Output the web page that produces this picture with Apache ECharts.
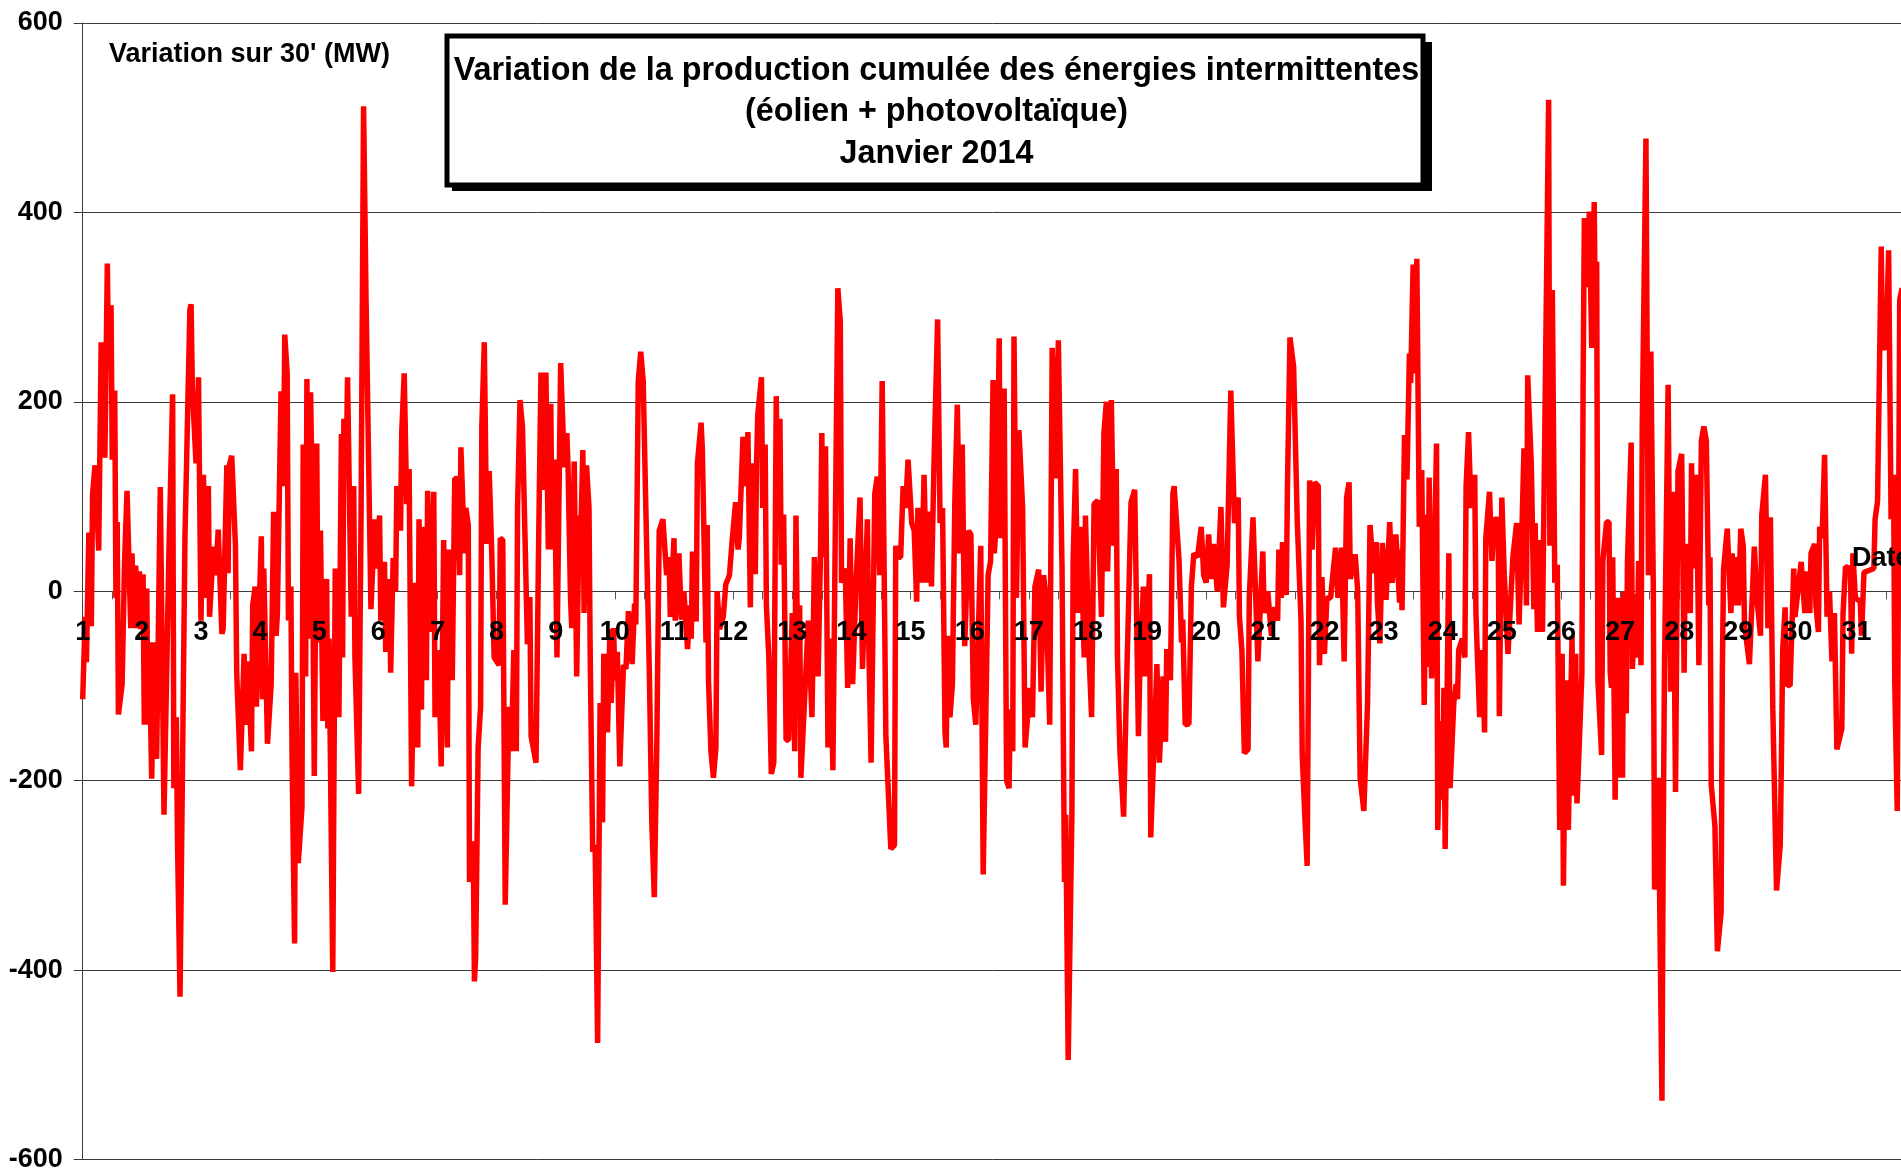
<!DOCTYPE html>
<html><head><meta charset="utf-8">
<style>html,body{margin:0;padding:0;background:#fff;overflow:hidden}#c{width:1901px;height:1173px}</style>
<script src="https://cdn.jsdelivr.net/npm/echarts@6/dist/echarts.min.js"></script>
</head><body><div id="c"></div>
<script>
// [half-hour slot since 1 Jan 00:00, variation over 30 min in MW] read at the curve's turning points
const days01to05 = [[0,-114],[2,-27],[3,-75],[5,62],[7,-37],[8,102],[10,133],[11,131],[13,43],[15,263],[18,141],[20,346],[21,241],[23,302],[24,139],[26,212],[27,-7],[28,73],[29,-130],[32,-98],[34,32],[36,106],[39,-39],[40,40],[42,-39],[43,27],[45,-39],[46,21],[47,-40],[49,18],[50,-141],[52,3],[53,-141],[54,-54],[56,-198],[58,-54],[60,-177],[61,-175],[63,110],[66,-236],[70,40],[73,208],[74,-208],[76,-133],[77,-268],[79,-428],[80,-428],[83,56],[87,297],[88,303],[89,214],[92,135],[94,226],[96,-31],[98,123],[100,-7],[102,111],[103,-27],[106,47],[108,17],[110,65],[113,-45],[114,-40],[117,133],[118,19],[119,133],[121,143],[124,48],[125,-86],[128,-189],[131,-66],[133,-141],[134,-74],[137,-169],[138,-15],[140,5],[141,-122],[145,58],[146,-114],[147,24],[150,-161],[153,-98],[155,84],[157,-47],[158,-25],[161,211],[163,111],[164,271],[166,230],[167,-31],[169,5],[170,-180],[172,-372],[173,-86],[175,-287],[178,-228],[179,155],[181,-90],[182,224],[184,-50],[185,210],[186,127],[188,-195],[190,156],[191,-54],[193,64],[195,-137],[198,13],[199,-145],[200,-50],[203,-402],[205,24],[208,-133],[210,166],[211,-70],[212,182],[214,135],[215,226],[218,-27],[220,111],[221,-70],[224,-214],[226,88],[228,512],[230,309],[234,-19],[237,76],[238,24],[241,80],[242,-31]];
const days06to10 = [[245,31],[246,-64],[249,13],[250,-86],[252,35],[254,0],[255,111],[258,64],[259,168],[261,230],[263,92],[265,129],[267,-206],[270,9],[272,-165],[273,76],[275,-125],[276,68],[279,-94],[280,106],[282,-43],[285,105],[286,-133],[289,-62],[291,-185],[293,54],[296,-165],[297,44],[300,-94],[302,119],[304,119],[306,17],[307,152],[310,40],[311,88],[313,70],[314,-307],[317,-264],[318,-412],[319,-386],[321,-165],[323,-122],[324,174],[326,263],[328,50],[330,127],[332,44],[334,-70],[338,-78],[339,56],[341,54],[343,-331],[346,-122],[348,-169],[350,-62],[352,-169],[353,88],[355,202],[357,174],[359,60],[361,-56],[363,-6],[364,-153],[368,-181],[370,40],[372,231],[375,107],[376,231],[378,44],[380,198],[381,44],[383,139],[385,-70],[388,241],[391,131],[393,167],[394,131],[396,-7],[397,-39],[399,137],[401,-90],[403,80],[404,40],[406,149],[407,-23],[409,133],[411,88],[412,-70],[414,-275],[416,-268],[418,-477],[420,-118],[422,-244],[423,-66],[426,-149],[428,-40],[429,-118],[431,-39],[432,-94],[434,-64],[436,-185],[439,-78],[441,-82],[443,-21],[446,-77],[448,-13],[449,-35],[451,222],[453,253],[455,222],[457,96],[460,-86],[462,-244],[464,-323],[466,-165],[468,64],[471,76],[474,17]];
const days10to15 = [[476,36],[477,-27],[480,56],[481,-31],[484,40],[486,-30],[488,0],[491,-61],[493,-15],[494,-50],[495,42],[498,-32],[499,135],[502,178],[503,150],[506,-54],[507,70],[508,-94],[510,-169],[512,-197],[514,-165],[515,0],[517,-40],[520,-27],[522,7],[525,17],[527,50],[530,94],[532,44],[533,56],[536,163],[538,111],[540,168],[542,-17],[543,135],[546,18],[547,135],[548,186],[551,226],[552,88],[554,155],[555,-15],[557,-70],[559,-193],[561,-181],[563,206],[564,100],[566,182],[567,28],[569,81],[571,-157],[573,-157],[574,-118],[576,-23],[578,-169],[579,80],[580,-27],[582,-15],[583,-197],[586,-114],[589,-31],[592,-133],[594,36],[597,-90],[599,48],[600,167],[601,36],[603,153],[605,-165],[607,-50],[609,-189],[611,72],[613,320],[615,285],[616,9],[619,24],[621,-102],[623,56],[625,-98],[628,15],[631,99],[633,-82],[637,76],[638,-47],[640,-181],[643,103],[645,121],[647,17],[649,222],[650,222],[652,-153],[656,-272],[659,-268],[660,48],[662,36],[664,36],[666,111],[668,88],[670,139],[673,72],[675,64],[677,-11],[678,88],[681,9],[683,123],[685,9],[687,84],[689,5],[691,131],[694,287],[696,72],[698,88],[700,-149],[701,-165],[702,-47],[704,-133],[706,-98]];
const days15to20 = [[708,96],[710,197],[712,40],[714,155],[716,-58],[719,64],[721,60],[723,-114],[725,-141],[729,48],[731,-299],[735,17],[737,32],[739,223],[740,40],[742,80],[744,267],[745,56],[748,214],[750,-200],[752,-208],[753,-125],[755,-169],[756,269],[758,-7],[760,170],[763,88],[765,-165],[769,-102],[771,-133],[773,5],[776,23],[778,-106],[780,17],[782,-7],[785,-141],[787,257],[790,119],[792,265],[795,24],[797,-307],[798,-236],[800,-495],[801,-495],[803,-236],[804,32],[806,129],[808,-23],[810,68],[813,-70],[814,80],[817,-70],[819,-133],[821,92],[824,96],[827,-27],[829,167],[831,200],[832,21],[835,202],[837,48],[839,129],[840,-70],[842,-169],[845,-238],[846,-236],[847,-118],[849,-15],[851,94],[854,107],[857,-153],[858,-94],[861,5],[862,-90],[866,18],[867,-260],[872,-77],[874,-181],[877,-90],[879,-159],[880,-61],[883,-94],[885,103],[886,111],[890,32],[892,-54],[893,-30],[895,-141],[898,-140],[900,5],[902,40],[905,36],[908,68],[910,17],[912,9],[914,60],[916,13],[918,50],[921,0],[924,89],[926,-17],[929,28],[932,212],[935,72],[938,99],[939,-27],[941,-62],[943,-171],[946,-167],[947,-7],[950,78]];
const days20to25 = [[954,-74],[958,42],[959,-23],[962,0],[965,-47],[967,-17],[970,-31],[971,44],[973,-7],[974,52],[977,-4],[978,111],[980,268],[983,237],[986,72],[989,-31],[990,-173],[992,-235],[994,-290],[995,-290],[996,117],[998,44],[1000,115],[1003,111],[1004,-78],[1006,15],[1008,-66],[1010,-7],[1013,-7],[1017,46],[1019,-7],[1022,46],[1024,-74],[1026,99],[1028,115],[1029,13],[1033,39],[1035,0],[1037,-197],[1040,-232],[1043,-118],[1045,70],[1046,70],[1048,19],[1050,52],[1051,-11],[1053,-55],[1055,51],[1058,-9],[1061,73],[1063,9],[1066,60],[1069,-12],[1070,44],[1071,-20],[1073,165],[1075,118],[1077,251],[1078,220],[1080,345],[1082,230],[1083,351],[1085,68],[1087,128],[1089,-120],[1091,81],[1092,-80],[1093,120],[1095,-92],[1097,20],[1099,156],[1100,-252],[1102,-137],[1104,-220],[1105,-102],[1106,-272],[1109,40],[1110,-208],[1113,-118],[1115,-98],[1116,-114],[1117,-62],[1120,-50],[1122,-70],[1123,111],[1125,168],[1127,88],[1130,123],[1131,-23],[1132,-62],[1134,-133],[1136,-62],[1138,-149],[1139,56],[1142,105],[1144,32],[1146,76],[1149,76],[1150,-132],[1152,99],[1154,17],[1157,-66],[1161,36],[1164,72],[1166,-35],[1168,48],[1170,151],[1172,-15],[1173,228],[1176,131],[1178,-19],[1179,72],[1181,-43],[1182,54],[1185,-43]];
const days25to31 = [[1190,519],[1191,48],[1193,318],[1195,9],[1197,28],[1198,-122],[1199,-252],[1201,-66],[1202,-311],[1204,-94],[1206,-252],[1209,-47],[1210,-216],[1212,-66],[1213,-224],[1215,-157],[1217,-86],[1218,222],[1219,394],[1220,324],[1222,324],[1223,401],[1225,257],[1226,257],[1227,411],[1228,269],[1229,348],[1230,-94],[1233,-173],[1234,32],[1237,73],[1239,73],[1240,-86],[1241,-102],[1242,36],[1244,-220],[1246,-7],[1247,-197],[1248,-7],[1250,-197],[1251,0],[1253,-129],[1254,32],[1257,157],[1258,-82],[1260,-3],[1262,-70],[1263,32],[1265,-78],[1266,174],[1269,478],[1271,17],[1273,253],[1275,0],[1276,-315],[1279,-197],[1282,-538],[1283,-268],[1284,-86],[1287,218],[1289,-106],[1291,105],[1293,-212],[1295,127],[1298,145],[1300,-86],[1301,50],[1305,-23],[1306,135],[1308,24],[1310,123],[1312,-78],[1314,159],[1316,174],[1318,159],[1320,-15],[1321,36],[1322,-204],[1325,-248],[1327,-380],[1330,-339],[1331,-86],[1332,23],[1335,66],[1338,-23],[1339,40],[1341,-15],[1343,36],[1344,-15],[1346,66],[1348,48],[1349,-35],[1353,-77],[1357,47],[1359,-7],[1362,-47],[1363,80],[1366,123],[1368,-39],[1370,78],[1372,-125],[1375,-316],[1378,-268],[1379,-173],[1380,-62],[1382,-17],[1383,-98],[1386,-100],[1389,24],[1390,-27],[1395,31],[1398,-23],[1400,21],[1402,-23],[1403,40],[1406,50],[1407,-15],[1409,-43],[1410,68],[1412,56],[1414,144],[1416,-27],[1418,0],[1420,-74],[1422,-23],[1424,-167],[1425,-167],[1428,-145],[1429,-23],[1431,26],[1435,24],[1436,-66],[1437,40],[1439,-7],[1443,-11],[1444,-47],[1446,20],[1454,24],[1455,76],[1457,95],[1460,364],[1461,257],[1464,257],[1466,360],[1468,76],[1470,123],[1471,-98],[1473,-232],[1475,308],[1477,320]];
const yTicks = {min:-600,max:600,step:200};
const slotsPerDay = 48, dayCount = 31;
const titleLines = ["Variation de la production cumulée des énergies intermittentes","(éolien + photovoltaïque)","Janvier 2014"];
const unitLabel = "Variation sur 30' (MW)";
const dateLabel = "Date";

const series = [].concat(days01to05,days06to10,days10to15,days15to20,days20to25,days25to31);
const font = 'Liberation Sans';
const chart = echarts.init(document.getElementById('c'),null,{renderer:'canvas'});
const ink='#000', rule='#3a3a3a';
chart.setOption({
  animation:false,
  backgroundColor:'#fff',
  grid:{left:82.7,top:23,width:31*59.13,height:1136.5,containLabel:false,outerBoundsMode:'none'},
  title:{text:titleLines.join('\n'),left:931.5,top:45,textAlign:'center',z:100,
    textStyle:{fontFamily:font,fontWeight:'bold',fontSize:32.3,lineHeight:41.5,color:ink}},
  xAxis:[
   {type:'value',min:0,max:slotsPerDay*dayCount,interval:slotsPerDay/2,z:0,
    axisLine:{onZero:true,lineStyle:{color:rule,width:1}},
    axisTick:{show:true,length:8,lineStyle:{color:'#555',width:1}},
    axisLabel:{show:false},splitLine:{show:false}},
   {type:'value',position:'bottom',offset:-568.25,min:0,max:slotsPerDay*dayCount,interval:slotsPerDay/2,z:5,
    axisLine:{show:false,onZero:false},axisTick:{show:false},splitLine:{show:false},
    axisLabel:{show:true,showMinLabel:true,showMaxLabel:false,margin:28,hideOverlap:false,
      fontFamily:font,fontWeight:'bold',fontSize:27,color:ink,
      formatter:v=>v%slotsPerDay===0?String(v/slotsPerDay+1):''}}
  ],
  yAxis:{type:'value',min:yTicks.min,max:yTicks.max,interval:yTicks.step,
    axisLine:{show:true,onZero:false,lineStyle:{color:rule,width:1}},
    axisTick:{show:true,length:9,lineStyle:{color:rule,width:1}},
    axisLabel:{margin:20,padding:[2,0,0,0],fontFamily:font,fontWeight:'bold',fontSize:27,color:ink},
    splitLine:{show:true,lineStyle:{color:rule,width:1}}},
  series:[{type:'line',data:series,xAxisIndex:0,showSymbol:false,symbol:'none',smooth:false,sampling:false,
    clip:true,lineStyle:{color:'#ff0000',width:5.5,join:'bevel'},z:2}],
  graphic:[
    {type:'rect',shape:{x:452,y:42,width:980,height:149},style:{fill:'#000'},z:50},
    {type:'rect',shape:{x:447,y:36,width:976,height:149},style:{fill:'#fff',stroke:'#000',lineWidth:5},z:51},
    {type:'text',x:109,y:41,style:{text:unitLabel,fontFamily:font,fontWeight:'bold',fontSize:27,fill:ink},z:60},
    {type:'text',x:1852,y:545,style:{text:dateLabel,fontFamily:font,fontWeight:'bold',fontSize:27,fill:ink},z:60}
  ]
});
</script></body></html>
